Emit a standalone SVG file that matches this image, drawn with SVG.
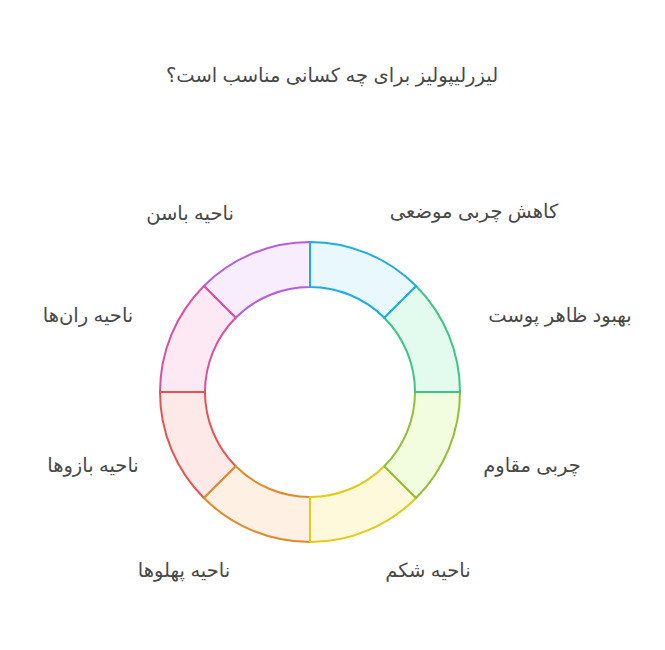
<svg xmlns="http://www.w3.org/2000/svg" width="665" height="650" viewBox="0 0 665 650">
<style>
text{font-family:"Liberation Sans","DejaVu Sans",Arial,sans-serif;font-size:19.5px;fill:#484848;text-anchor:middle}
.seg{stroke-width:2;stroke-linejoin:round}
</style>
<rect width="665" height="650" fill="#fff"/>
<text id="title" x="332" y="82">لیزرلیپولیز برای چه کسانی مناسب است؟</text>
<g id="connectors"></g>
<g id="node-purple"><path class="seg" d="M203.93,285.93 A150,150 0 0 1 310,242 L310,287 A105,105 0 0 0 235.75,317.75 Z" fill="#F8EDFD" stroke="#B85BE0"/><text x="190" y="220">ناحیه باسن</text></g>
<g id="node-pink"><path class="seg" d="M160,392 A150,150 0 0 1 203.93,285.93 L235.75,317.75 A105,105 0 0 0 205,392 Z" fill="#FDE9F4" stroke="#D9519D"/><text x="88" y="322">ناحیه ران‌ها</text></g>
<g id="node-red"><path class="seg" d="M203.93,498.07 A150,150 0 0 1 160,392 L205,392 A105,105 0 0 0 235.75,466.25 Z" fill="#FEE9E9" stroke="#E25553"/><text x="93" y="472">ناحیه بازوها</text></g>
<g id="node-orange"><path class="seg" d="M310,542 A150,150 0 0 1 203.93,498.07 L235.75,466.25 A105,105 0 0 0 310,497 Z" fill="#FEF0E3" stroke="#E08A2E"/><text x="184" y="577">ناحیه پهلوها</text></g>
<g id="node-yellow"><path class="seg" d="M416.07,498.07 A150,150 0 0 1 310,542 L310,497 A105,105 0 0 0 384.25,466.25 Z" fill="#FEF9DA" stroke="#E0CB15"/><text x="428" y="577">ناحیه شکم</text></g>
<g id="node-lime"><path class="seg" d="M460,392 A150,150 0 0 1 416.07,498.07 L384.25,466.25 A105,105 0 0 0 415,392 Z" fill="#F2FDDF" stroke="#93BF35"/><text x="532" y="472">چربی مقاوم</text></g>
<g id="node-green"><path class="seg" d="M416.07,285.93 A150,150 0 0 1 460,392 L415,392 A105,105 0 0 0 384.25,317.75 Z" fill="#E2FBEE" stroke="#3CC583"/><text x="560" y="322">بهبود ظاهر پوست</text></g>
<g id="node-blue"><path class="seg" d="M310,242 A150,150 0 0 1 416.07,285.93 L384.25,317.75 A105,105 0 0 0 310,287 Z" fill="#E8F8FD" stroke="#1EADDC"/><text x="474" y="218">کاهش چربی موضعی</text></g>
</svg>
